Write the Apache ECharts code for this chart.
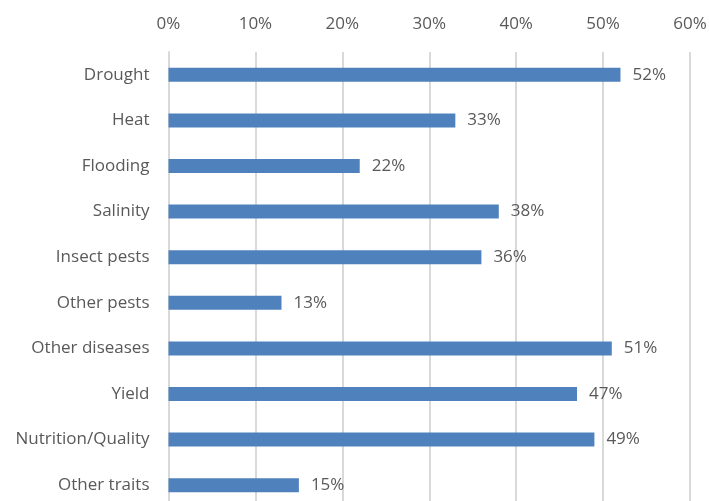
<!DOCTYPE html>
<html>
<head>
<meta charset="utf-8">
<script src="https://cdn.jsdelivr.net/npm/echarts@6/dist/echarts.min.js"></script>
<style>
  html, body { margin: 0; padding: 0; background: #fff; }
  #chart { width: 709px; height: 501px; }
</style>
</head>
<body>
<div id="chart"></div>
<script>
// Share of responses per trait (percent)
const categories = ['Drought', 'Heat', 'Flooding', 'Salinity', 'Insect pests',
  'Other pests', 'Other diseases', 'Yield', 'Nutrition/Quality', 'Other traits'];
const values = [52, 33, 22, 38, 36, 13, 51, 47, 49, 15];
const axisTicks = [0, 10, 20, 30, 40, 50, 60];

const FONT = '"Open Sans", Lato, sans-serif';
const TEXT = '#595959';
const GRID = '#d9d9d9';

const chart = echarts.init(document.getElementById('chart'), null, { renderer: 'canvas' });
chart.setOption({
  animation: false,
  // plot area runs slightly past the bottom edge of the canvas
  grid: { left: 168.5, width: 521.5, top: 52, height: 456, containLabel: false, outerBoundsMode: 'none' },
  xAxis: {
    type: 'value',
    position: 'top',
    min: axisTicks[0],
    max: axisTicks[axisTicks.length - 1],
    interval: 10,
    axisLine: { show: false },
    axisTick: { show: false },
    axisLabel: { formatter: v => v + '%', color: TEXT, fontSize: 17, fontFamily: FONT, margin: 19 },
    splitLine: { show: true, lineStyle: { color: GRID, width: 2 } }
  },
  yAxis: {
    type: 'category',
    inverse: true,
    data: categories,
    axisLine: { show: true, lineStyle: { color: GRID, width: 2 } },
    axisTick: { show: false },
    axisLabel: { color: TEXT, fontSize: 17, fontFamily: FONT, margin: 19 }
  },
  series: [{
    type: 'bar',
    data: values,
    barWidth: 14,
    itemStyle: { color: '#4f81bd' },
    label: {
      show: true,
      position: 'right',
      distance: 12,
      formatter: p => p.value + '%',
      color: TEXT,
      fontSize: 17,
      fontFamily: FONT
    }
  }]
});
</script>
</body>
</html>
